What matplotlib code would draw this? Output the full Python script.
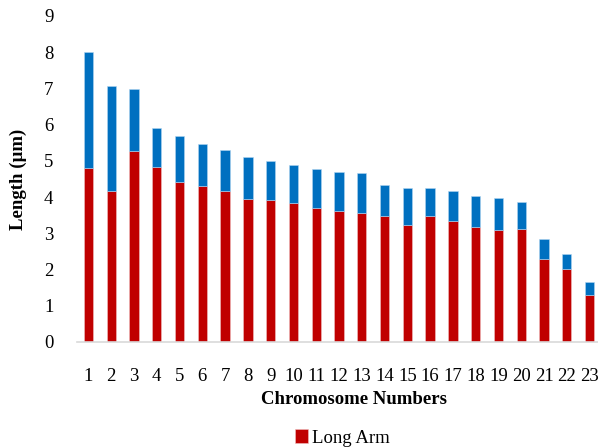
import numpy as np
import matplotlib
matplotlib.use("Agg")
import matplotlib.pyplot as plt

# chromosome data
chromosomes = [str(i) for i in range(1, 24)]
long_arm = [4.81, 4.18, 5.26, 4.83, 4.43, 4.31, 4.18, 3.95, 3.92, 3.84,
            3.71, 3.63, 3.56, 3.48, 3.23, 3.47, 3.35, 3.18, 3.09, 3.13,
            2.30, 2.02, 1.31]
total_len = [8.00, 7.07, 6.99, 5.92, 5.69, 5.47, 5.31, 5.11, 5.00, 4.88,
             4.78, 4.69, 4.67, 4.34, 4.25, 4.24, 4.18, 4.03, 3.97, 3.86,
             2.85, 2.44, 1.67]
short_arm = [t - l for t, l in zip(total_len, long_arm)]

plt.rcParams['font.family'] = ['Liberation Serif', 'DejaVu Serif']

fig = plt.figure(figsize=(5.98, 4.47), dpi=100)
ax = fig.add_axes([77 / 598, 1 - 342 / 447, 524 / 598, 326 / 447])

x = np.arange(len(chromosomes))
w = 0.41
ax.bar(x, long_arm, w, color='#C00000', edgecolor='#f0c0c0', linewidth=0.4,
       label='Long Arm')
ax.bar(x, short_arm, w, bottom=long_arm, color='#0070C0', edgecolor='#b0d4f0',
       linewidth=0.4)

ax.set_xlim(-0.5, len(chromosomes) - 0.5)
ax.set_ylim(0, 9)
ax.set_yticks(range(0, 10))
ax.set_xticks(x)
ax.set_xticklabels(chromosomes)
ax.tick_params(axis='y', length=0, pad=17, labelsize=13.5)
ax.tick_params(axis='x', length=0, pad=19, labelsize=13.5)

for s in ['top', 'right', 'left']:
    ax.spines[s].set_visible(False)
ax.spines['bottom'].set_color('#d9d9d9')
ax.spines['bottom'].set_linewidth(1.2)

ax.set_ylabel('Length (µm)', fontsize=13.5, fontweight='bold', labelpad=12)
ax.set_xlabel('Chromosome Numbers', fontsize=13.5, fontweight='bold', va='center')
ax.xaxis.set_label_coords((354 - 77) / 524, (342 - 399) / 326)

fig.legend(loc='center', bbox_to_anchor=(342 / 598, 1 - 438 / 447), frameon=False,
           fontsize=13.5, handlelength=0.7, handleheight=0.7, handletextpad=0.2)

fig.savefig('out.png', dpi=100)
